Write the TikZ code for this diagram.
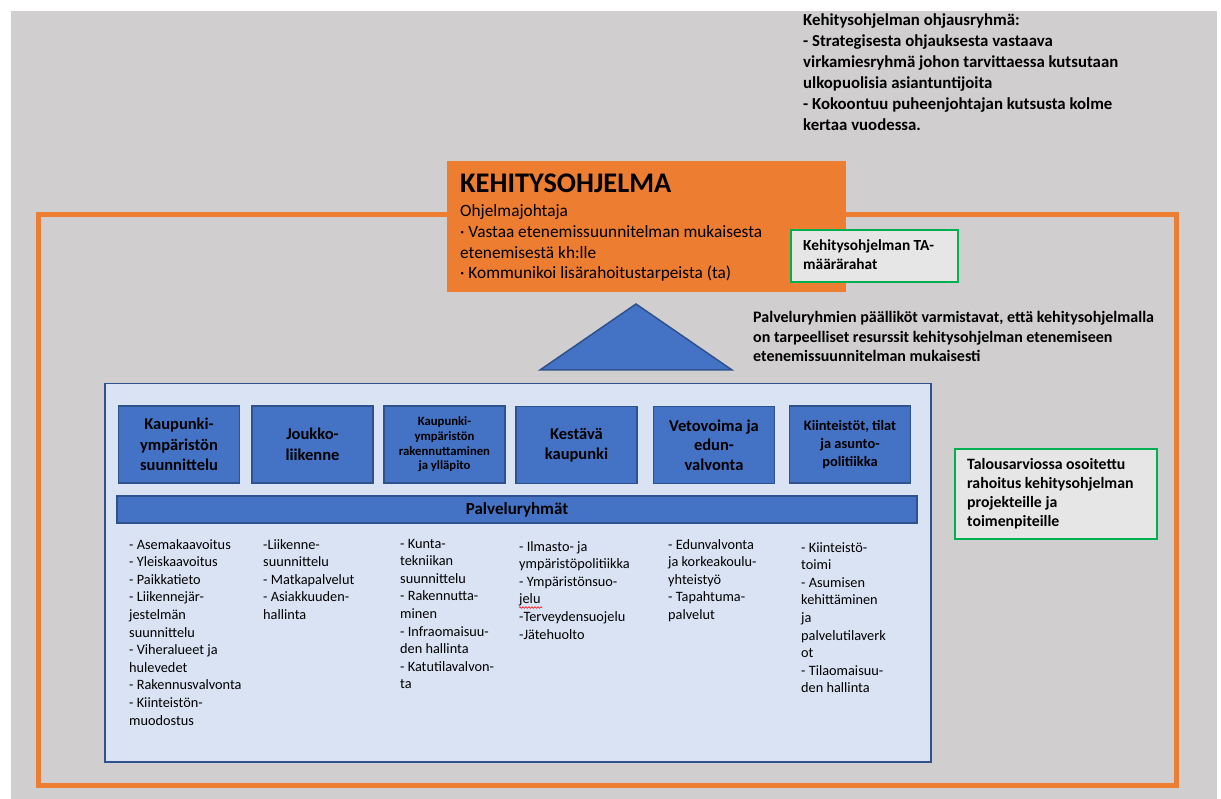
\documentclass[tikz,border=0pt]{standalone}
\usepackage{fontspec}
\setmainfont{Carlito}
\usetikzlibrary{decorations.pathmorphing}
\definecolor{taustaharmaa}{HTML}{D0CECE}
\definecolor{oranssi}{HTML}{ED7D31}
\definecolor{sininen}{HTML}{4472C4}
\definecolor{tummasininen}{HTML}{2F528F}
\definecolor{vaaleansininen}{HTML}{DAE3F3}
\definecolor{vihrea}{HTML}{00B050}
\definecolor{vaaleanharmaa}{HTML}{E7E6E6}
\newcommand{\rivit}[1]{\begin{tabular}[t]{@{}l@{}}#1\end{tabular}}
\tikzset{
	ryhma/.style={draw=tummasininen, fill=sininen, line width=1.5pt, minimum width=121pt, minimum height=77pt, inner sep=0pt, align=center, text=black, font=\fontsize{16.5}{20.5}\selectfont\bfseries},
	vihrealaatikko/.style={draw=vihrea, fill=vaaleanharmaa, line width=2pt, anchor=north west, inner sep=0pt},
	teksti/.style={anchor=base west, inner sep=0pt},
	lista/.style={teksti, font=\fontsize{14.3}{17.6}\selectfont}
}
\begin{document}
\begin{tikzpicture}[x=1pt, y=-1pt]
	\useasboundingbox (0,0) rectangle (1221,799);
	\fill[taustaharmaa] (11,11) rectangle (1217,799);
	
	\draw[oranssi, line width=5pt] (38.5,214.5) rectangle (1176.5,785.5);
	
	\node[fill=oranssi, anchor=north west, minimum width=399pt, minimum height=131pt, inner sep=0pt] (kehitys) at (447,161) {};
	\node[teksti, font=\fontsize{28.4}{32}\selectfont\bfseries] (otsikko) at (460,193) {KEHITYSOHJELMA};
	\node[teksti, font=\fontsize{17.3}{20.8}\selectfont] (johtaja) at (460,216.5) {\rivit{Ohjelmajohtaja\\
		· Vastaa etenemissuunnitelman mukaisesta\\
		etenemisestä kh:lle\\
		· Kommunikoi lisärahoitustarpeista (ta)}};
	
	\node[vihrealaatikko, minimum width=167pt, minimum height=52pt] (ta) at (790,229) {};
	\node[teksti, font=\fontsize{15.4}{18.8}\selectfont\bfseries] (tateksti) at (803,250.5) {\rivit{Kehitysohjelman TA-\\määrärahat}};
	
	\node[teksti, font=\fontsize{16.8}{21}\selectfont\bfseries] (ohjaus) at (803,25.5) {\rivit{Kehitysohjelman ohjausryhmä:\\
		- Strategisesta ohjauksesta vastaava\\
		virkamiesryhmä johon tarvittaessa kutsutaan\\
		ulkopuolisia asiantuntijoita\\
		- Kokoontuu puheenjohtajan kutsusta kolme\\
		kertaa vuodessa.}};
	
	\node[teksti, font=\fontsize{16}{19.5}\selectfont\bfseries] (paallikot) at (753,323) {\rivit{Palveluryhmien päälliköt varmistavat, että kehitysohjelmalla\\
		on tarpeelliset resurssit kehitysohjelman etenemiseen\\
		etenemissuunnitelman mukaisesti}};
	
	\node[vihrealaatikko, minimum width=202pt, minimum height=90pt] (talous) at (954,448) {};
	\node[teksti, font=\fontsize{15.8}{19}\selectfont\bfseries] (talousteksti) at (967,469) {\rivit{Talousarviossa osoitettu\\
		rahoitus kehitysohjelman\\
		projekteille ja\\
		toimenpiteille}};
	
	\draw[draw=tummasininen, fill=sininen, line width=1.5pt] (636,304) -- (732,370) -- (540,370) -- cycle;
	
	\node[draw=tummasininen, fill=vaaleansininen, line width=1.5pt, anchor=north west, minimum width=826pt, minimum height=378pt, inner sep=0pt] (palvelut) at (104,383) {};
	
	\node[ryhma] (suunnittelu) at (179,444.5) {Kaupunki-\\ympäristön\\suunnittelu};
	\node[ryhma] (joukko) at (312.5,444.5) {Joukko-\\liikenne};
	\node[ryhma, font=\fontsize{12.7}{14.7}\selectfont\bfseries] (rakennuttaminen) at (444.5,444.5) {Kaupunki-\\ympäristön\\rakennuttaminen\\ja ylläpito};
	\node[ryhma] (kestava) at (576.5,445) {Kestävä\\kaupunki};
	\node[ryhma, font=\fontsize{16.5}{19.5}\selectfont\bfseries] (vetovoima) at (714,445) {Vetovoima ja\\edun-\\valvonta};
	\node[ryhma, font=\fontsize{14.4}{18}\selectfont\bfseries] (kiinteistot) at (850,444.5) {Kiinteistöt, tilat\\ja asunto-\\politiikka};
	
	\node[ryhma, minimum width=800pt, minimum height=27pt, font=\fontsize{17}{20}\selectfont\bfseries] (palveluryhmat) at (517,509.5) {Palveluryhmät};
	
	\node[lista] (lista1) at (129,549) {\rivit{- Asemakaavoitus\\- Yleiskaavoitus\\- Paikkatieto\\- Liikennejär-\\jestelmän\\suunnittelu\\- Viheralueet ja\\hulevedet\\- Rakennusvalvonta\\- Kiinteistön-\\muodostus}};
	\node[lista] (lista2) at (263,549) {\rivit{-Liikenne-\\suunnittelu\\- Matkapalvelut\\- Asiakkuuden-\\hallinta}};
	\node[lista] (lista3) at (400,548) {\rivit{- Kunta-\\tekniikan\\suunnittelu\\- Rakennutta-\\minen\\- Infraomaisuu-\\den hallinta\\- Katutilavalvon-\\ta}};
	\node[lista] (lista4) at (519,551) {\rivit{- Ilmasto- ja\\ympäristöpolitiikka\\- Ympäristönsuo-\\jelu\\-Terveydensuojelu\\-Jätehuolto}};
	\node[lista] (lista5) at (668,549) {\rivit{- Edunvalvonta\\ja korkeakoulu-\\yhteistyö\\- Tapahtuma-\\palvelut}};
	\node[lista] (lista6) at (801,552) {\rivit{- Kiinteistö-\\toimi\\- Asumisen\\kehittäminen\\ja\\palvelutilaverk\\ot\\- Tilaomaisuu-\\den hallinta}};
	
	\draw[red, line width=0.6pt, decorate, decoration={snake, amplitude=0.8pt, segment length=3pt}] (519,607.5) -- (542,607.5);
	
\end{tikzpicture}
\end{document}
